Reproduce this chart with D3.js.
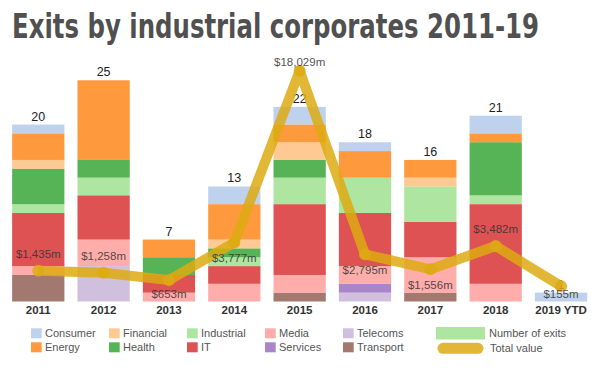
<!DOCTYPE html>
<html>
<head>
<meta charset="utf-8">
<script src="https://cdn.jsdelivr.net/npm/d3@7/dist/d3.min.js"></script>
<style>
  html, body { margin: 0; padding: 0; background: #fff; }
  svg { display: block; }
</style>
</head>
<body>
<svg id="chart" width="600" height="371"></svg>
<script>
// ---- Data ----
const years = ['2011', '2012', '2013', '2014', '2015', '2016', '2017', '2018', '2019 YTD'];
const sectors = ['Consumer', 'Energy', 'Financial', 'Health', 'Industrial', 'IT', 'Media', 'Services', 'Telecoms', 'Transport'];
const consumer   = [1, 0, 0, 2, 2, 1, 0, 2, 1];
const energy     = [3, 9, 2, 4, 2, 3, 2, 1, 0];
const financial  = [1, 0, 0, 1, 2, 0, 1, 0, 0];
const health     = [4, 2, 2, 1, 2, 0, 0, 6, 0];
const industrial = [1, 2, 0, 1, 3, 4, 4, 1, 0];
const it         = [6, 5, 2, 2, 8, 6, 4, 9, 0];
const media      = [1, 3, 1, 2, 2, 2, 4, 2, 0];
const services   = [0, 0, 0, 0, 0, 1, 0, 0, 0];
const telecoms   = [0, 4, 0, 0, 0, 1, 0, 0, 0];
const transport  = [3, 0, 0, 0, 1, 0, 1, 0, 0];
const totalValue = [1435, 1258, 653, 3777, 18029, 2795, 1556, 3482, 155]; // $m
const valueLabelSide = ['above', 'above', 'below', 'below', 'above', 'below', 'below', 'above', 'below'];
const titleText = 'Exits by industrial corporates 2011-19';

const sectorValues = {
  Consumer: consumer, Energy: energy, Financial: financial, Health: health,
  Industrial: industrial, IT: it, Media: media, Services: services,
  Telecoms: telecoms, Transport: transport
};
const colors = {
  Consumer: '#aec7e8', Energy: '#ff7f0e', Financial: '#ffbb78', Health: '#2ca02c',
  Industrial: '#98df8a', IT: '#d62728', Media: '#ff9896', Services: '#9467bd',
  Telecoms: '#c5b0d5', Transport: '#8c564b'
};
const lineColor = '#DDAA12';

const rows = years.map((y, i) => {
  const r = { year: y, total: totalValue[i] };
  sectors.forEach(s => r[s] = sectorValues[s][i]);
  r.count = d3.sum(sectors, s => r[s]);
  return r;
});

const svg = d3.select('#chart');

// Title
svg.append('text')
  .attr('x', 12).attr('y', 38)
  .attr('font-family', '"Liberation Sans Narrow", "DejaVu Sans Condensed", Arial, sans-serif')
  .attr('font-weight', 'bold')
  .attr('font-size', 33)
  .attr('fill', '#505050')
  .attr('textLength', 527)
  .attr('lengthAdjust', 'spacingAndGlyphs')
  .text(titleText);

// Scales
const x = d3.scaleBand().domain(years).range([5.6, 593.7]).paddingInner(0.2).paddingOuter(0.1);
const yCount = d3.scaleLinear().domain([0, 25]).range([301.5, 80.3]);
const yValue = d3.scaleLinear().domain([0, 20000]).range([288, 47]);

// Stacked bars (bottom first)
const stackKeys = sectors.slice().reverse();
const stacked = d3.stack().keys(stackKeys)(rows);

const g = svg.append('g');
g.selectAll('g.layer')
  .data(stacked)
  .join('g')
  .attr('class', 'layer')
  .attr('fill', d => colors[d.key])
  .attr('fill-opacity', 0.8)
  .selectAll('rect')
  .data(d => d)
  .join('rect')
  .attr('x', d => x(d.data.year))
  .attr('width', x.bandwidth())
  .attr('y', d => yCount(d[1]))
  .attr('height', d => yCount(d[0]) - yCount(d[1]));

// Count labels
g.selectAll('text.count')
  .data(rows)
  .join('text')
  .attr('class', 'count')
  .attr('x', d => x(d.year) + x.bandwidth() / 2)
  .attr('y', d => yCount(d.count) - 4)
  .attr('text-anchor', 'middle')
  .attr('font-family', '"Liberation Sans", Arial, sans-serif')
  .attr('font-size', 12.5)
  .attr('fill', '#222')
  .text(d => d.count);

// X axis
const xAxis = svg.append('g')
  .attr('transform', 'translate(0,301.5)')
  .call(d3.axisBottom(x).tickSize(0).tickPadding(4.3));
xAxis.select('.domain').remove();
xAxis.selectAll('text')
  .attr('font-family', '"Liberation Sans", Arial, sans-serif')
  .attr('font-weight', 'bold')
  .attr('font-size', 11.5)
  .attr('fill', '#333');

// Total value line
const cx = d => x(d.year) + x.bandwidth() / 2;
const line = d3.line().x(cx).y(d => yValue(d.total));
svg.append('path')
  .datum(rows)
  .attr('d', line)
  .attr('fill', 'none')
  .attr('stroke', lineColor)
  .attr('stroke-width', 10)
  .attr('stroke-linejoin', 'round')
  .attr('stroke-opacity', 0.85);
svg.selectAll('circle.pt')
  .data(rows)
  .join('circle')
  .attr('class', 'pt')
  .attr('cx', cx)
  .attr('cy', d => yValue(d.total))
  .attr('r', 6)
  .attr('fill', lineColor)
  .attr('fill-opacity', 0.85);

// Value labels
svg.selectAll('text.val')
  .data(rows)
  .join('text')
  .attr('class', 'val')
  .attr('x', cx)
  .attr('y', (d, i) => {
    const py = yValue(d.total);
    const yy = valueLabelSide[i] === 'above' ? py - 13 : py + 20;
    return Math.max(66, Math.min(298, yy));
  })
  .attr('text-anchor', 'middle')
  .attr('font-family', '"Liberation Sans", Arial, sans-serif')
  .attr('font-size', 11.5)
  .attr('fill', '#333')
  .attr('fill-opacity', 0.86)
  .text(d => '$' + d3.format(',')(d.total) + 'm');

// Legend
const leg = svg.append('g')
  .attr('font-family', '"Liberation Sans", Arial, sans-serif')
  .attr('font-size', 11)
  .attr('fill', '#555');
sectors.forEach((s, i) => {
  const col = Math.floor(i / 2), row = i % 2;
  const lx = 31 + col * 78, ly = 328.3 + row * 14;
  leg.append('rect')
    .attr('x', lx).attr('y', ly).attr('width', 10.7).attr('height', 10)
    .attr('fill', colors[s]).attr('fill-opacity', 0.8);
  leg.append('text')
    .attr('x', lx + 14).attr('y', ly + 9)
    .text(s);
});
leg.append('rect')
  .attr('x', 436).attr('y', 327).attr('width', 49).attr('height', 12.5)
  .attr('fill', colors.Industrial).attr('fill-opacity', 0.8);
leg.append('text').attr('x', 489).attr('y', 337.3).text('Number of exits');
leg.append('line')
  .attr('x1', 443).attr('x2', 478).attr('y1', 348.3).attr('y2', 348.3)
  .attr('stroke', lineColor).attr('stroke-opacity', 0.85)
  .attr('stroke-width', 11).attr('stroke-linecap', 'round');
leg.append('text').attr('x', 490).attr('y', 351.5).text('Total value');
</script>
</body>
</html>
